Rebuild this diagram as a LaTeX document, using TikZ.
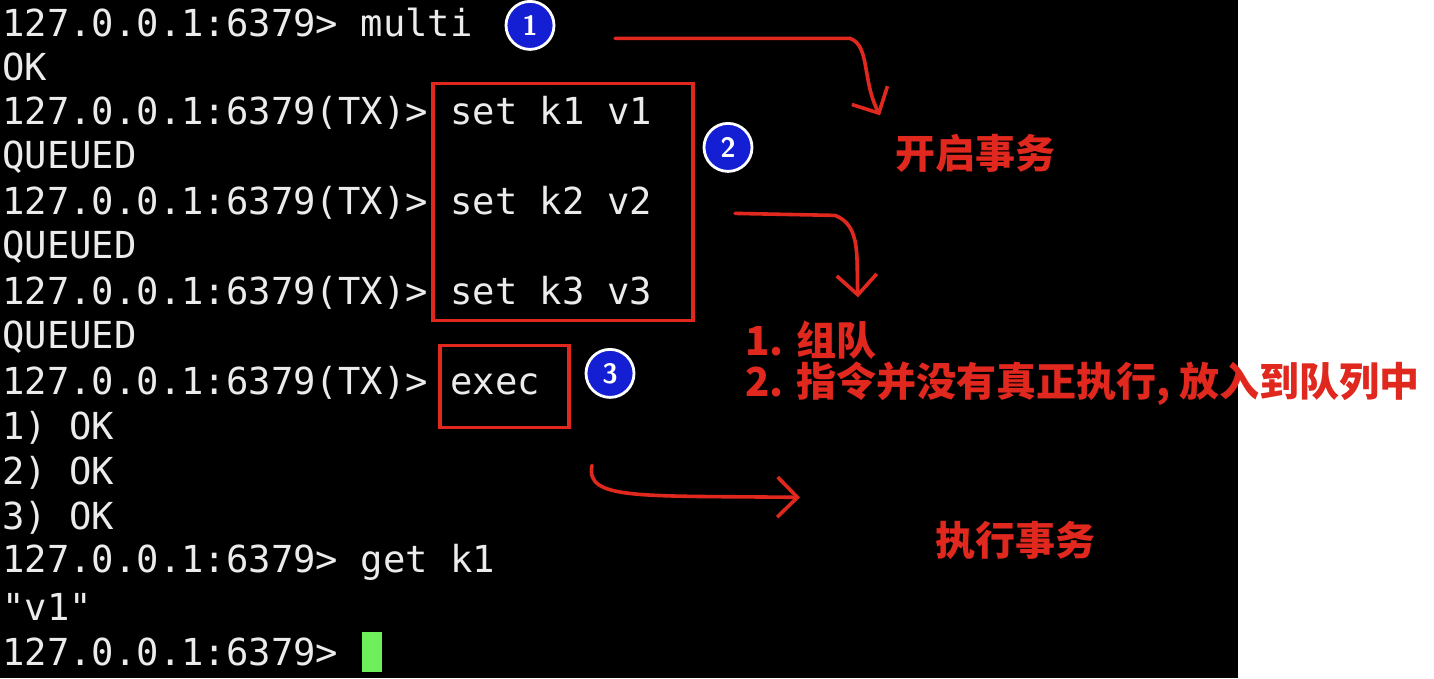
\documentclass[tikz,border=0pt]{standalone}
\usepackage{fontspec}
\setmonofont{DejaVu Sans Mono}
\newfontfamily\cjk{Noto Sans CJK SC}
\usetikzlibrary{arrows.meta}
\definecolor{termfg}{RGB}{235,235,235}
\definecolor{markred}{RGB}{225,40,30}
\definecolor{numblue}{RGB}{20,30,210}
\definecolor{cursorgreen}{RGB}{110,240,90}
\tikzset{
  line/.style={anchor=west,inner sep=0pt,text=termfg,font=\ttfamily\fontsize{18.6}{20}\selectfont},
  redbox/.style={draw=markred,line width=1.6pt},
  numdot/.style={circle,fill=numblue,draw=white,line width=1.4pt,minimum size=24pt,inner sep=0pt,text=white,font=\sffamily\bfseries\fontsize{14}{14}\selectfont},
  note/.style={anchor=west,inner sep=0pt,text=markred,font=\cjk\bfseries\fontsize{20}{22}\selectfont},
  redarrow/.style={draw=markred,line width=1.8pt,line cap=round,-{Straight Barb[length=10pt,width=20pt,line width=1.8pt]}}
}
\begin{document}
\begin{tikzpicture}[x=0.5pt,y=-0.5pt]
\fill[white] (0,0) rectangle (1434,678);
\fill[black] (0,0) rectangle (1238,678);
% terminal lines
\foreach \t [count=\i] in {127.0.0.1:6379> multi,OK,127.0.0.1:6379(TX)> set k1 v1,QUEUED,
  127.0.0.1:6379(TX)> set k2 v2,QUEUED,127.0.0.1:6379(TX)> set k3 v3,QUEUED,
  127.0.0.1:6379(TX)> exec,1) OK,2) OK,3) OK,127.0.0.1:6379> get k1,"v1",127.0.0.1:6379>}
  \node[line] (l\i) at (2,{22+45*(\i-1)}) {\t};
\fill[cursorgreen] (362,632) rectangle (382,672);
% boxes and numbers
\draw[redbox] (433,83) rectangle (693,320);
\draw[redbox] (440,345) rectangle (569,427);
\node[numdot] (n1) at (530,25) {1};
\node[numdot] (n2) at (728,147) {2};
\node[numdot] (n3) at (610,373) {3};
% notes
\node[note] (open) at (895,153) {开启事务};
\node[note] (queue1) at (745,340) {1. 组队};
\node[note] (queue2) at (745,383) {2. 指令并没有真正执行, 放入到队列中};
\node[note] (run) at (935,540) {执行事务};
% arrows
\coordinate (a1) at (615,38);
\coordinate (b1) at (880,115);
\draw[redarrow] (a1) -- (850,38) .. controls (870,45) and (862,80) .. (b1);
\coordinate (a2) at (735,213);
\coordinate (b2) at (858,297);
\draw[redarrow] (a2) -- (835,215) .. controls (862,225) and (856,260) .. (b2);
\coordinate (a3) at (592,465);
\coordinate (b3) at (800,497);
\draw[redarrow] (a3) .. controls (585,500) and (640,495) .. (b3);
\end{tikzpicture}
\end{document}
